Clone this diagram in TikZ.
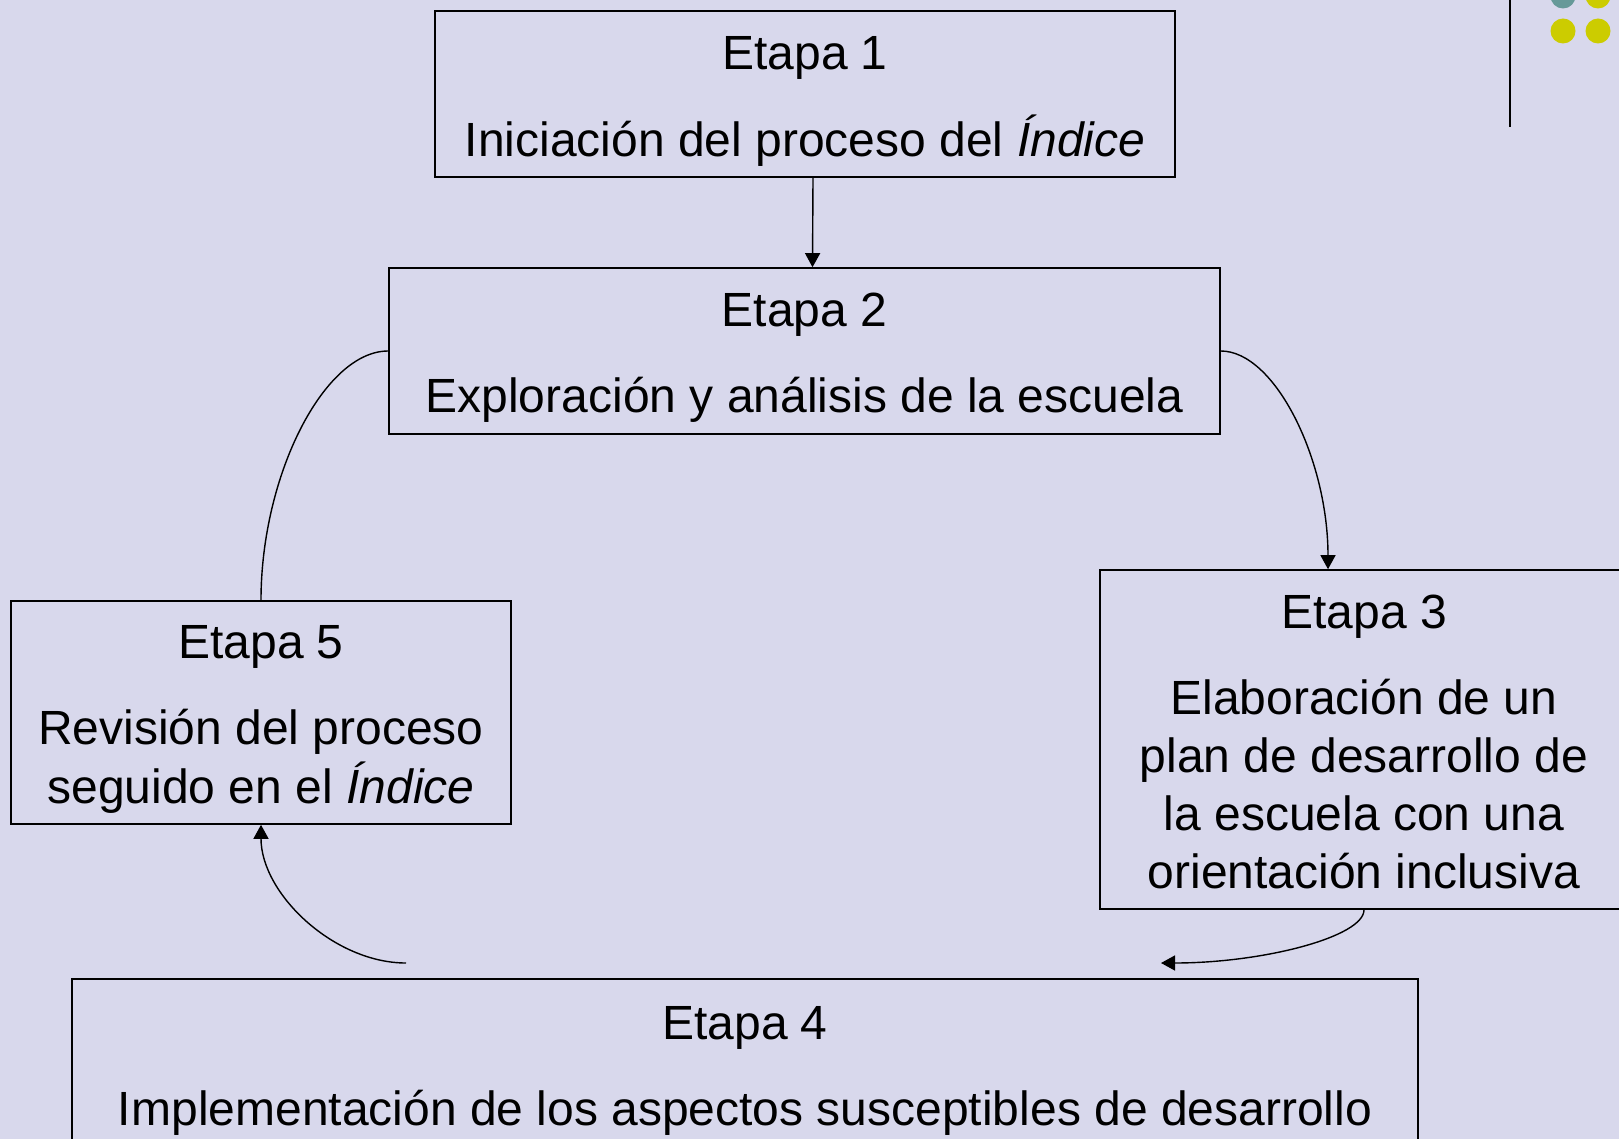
\documentclass[tikz,border=0pt]{standalone}
\usepackage{fontspec}
\setmainfont{Liberation Sans}
\usetikzlibrary{arrows.meta}
\definecolor{bgcol}{RGB}{216,216,236}
\definecolor{tealdot}{RGB}{102,153,153}
\definecolor{yellowdot}{RGB}{204,204,0}
\newcommand{\stagetext}[1]{\raisebox{-7pt}[\height][\depth]{\begin{tabular}{@{}c@{}}#1\end{tabular}}}
\tikzset{
  stagebox/.style={draw=black, line width=1.6pt, fill=none,
    font=\fontsize{48}{58}\selectfont, inner sep=0pt},
  conn/.style={draw=black, line width=1.4pt},
  arr/.style={conn, -{Triangle[length=14pt,width=15pt]}},
}
\begin{document}
\begin{tikzpicture}[x=1pt,y=-1pt]
\useasboundingbox[fill=bgcol] (0,0) rectangle (1619,1139);
% decoration top right
\draw[line width=1.4pt] (1510,0) -- (1510,127);
\fill[tealdot] (1563,-4) circle (12.5);
\fill[yellowdot] (1598,-4) circle (12.5);
\fill[yellowdot] (1563,31) circle (12.5);
\fill[yellowdot] (1598,31) circle (12.5);
% boxes
\node[stagebox, minimum width=740pt, minimum height=166pt] (b1) at (805,94)
  {\stagetext{Etapa 1\\[28pt]Iniciación del proceso del \textit{Índice}}};
\node[stagebox, minimum width=831pt, minimum height=166pt] (b2) at (804.5,351)
  {\stagetext{Etapa 2\\[28pt]Exploración y análisis de la escuela}};
\node[stagebox, minimum width=528pt, minimum height=339pt] (b3) at (1364,739.5)
  {\stagetext{Etapa 3\\[28pt]Elaboración de un\\plan de desarrollo de\\la escuela con una\\orientación inclusiva}};
\node[stagebox, minimum width=500pt, minimum height=223pt] (b5) at (261,712.5)
  {\stagetext{Etapa 5\\[28pt]Revisión del proceso\\seguido en el \textit{Índice}}};
\node[stagebox, minimum width=1346pt, minimum height=169pt] (b4) at (745,1063.5)
  {\stagetext{Etapa 4\\[28pt]Implementación de los aspectos susceptibles de desarrollo}};
% free ends
\coordinate (c34) at (1161,963);
\coordinate (c45) at (406,963);
% connectors
\draw[arr] ([xshift=8pt]b1.south) -- ([xshift=8pt]b2.north);
\draw[arr] (b2.east) .. controls +(54,0) and +(0,-110) .. ([xshift=-36pt]b3.north);
\draw[arr] (b3.south) .. controls +(0,27) and +(102,0) .. (c34);
\draw[arr] (c45) .. controls +(-72,0) and +(0,69) .. (b5.south);
\draw[conn] (b2.west) .. controls +(-64,0) and +(0,-125) .. (b5.north);
\end{tikzpicture}
\end{document}
